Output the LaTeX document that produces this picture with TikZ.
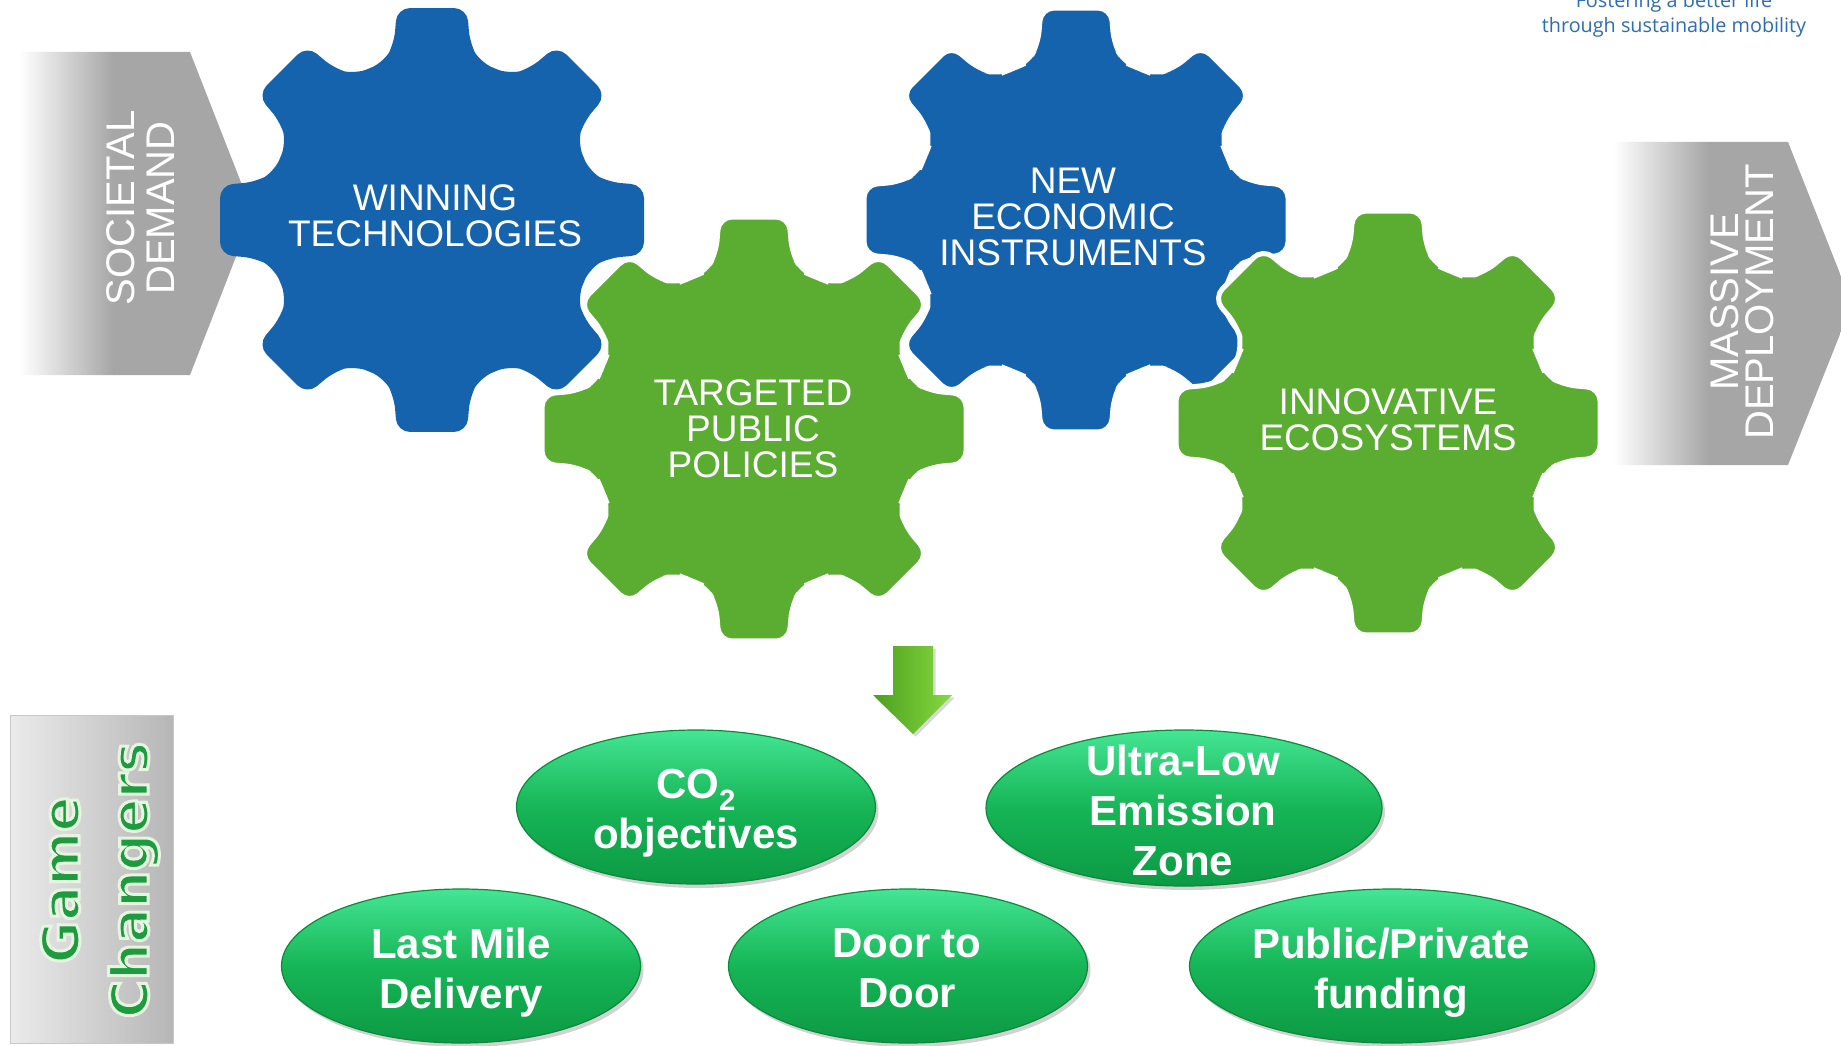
\documentclass[tikz,border=0pt]{standalone}
\usepackage{fontspec}
\setmainfont{Liberation Sans}
\newfontfamily\logofont{Open Sans}
\newfontfamily\gamefont{DejaVu Sans}
\usetikzlibrary{shapes.geometric,shadows,calc}
\definecolor{gblue}{HTML}{1663AD}
\definecolor{ggreen}{HTML}{5BAD32}
\definecolor{agray}{HTML}{A6A6A6}
\definecolor{logoblue}{HTML}{2B6DB7}
\definecolor{elltop}{HTML}{44E594}
\definecolor{ellmid}{HTML}{16B556}
\definecolor{ellbot}{HTML}{0C9A44}
\definecolor{elledge}{HTML}{0B8A3C}
\definecolor{gctext}{HTML}{1E9A3F}
\definecolor{arrowL}{HTML}{4C9F1E}
\definecolor{arrowR}{HTML}{86DA40}
\definecolor{boxL}{HTML}{EBEBEB}
\definecolor{boxR}{HTML}{B6B6B6}
\definecolor{boxE}{HTML}{C8C8C8}
\pgfdeclarehorizontalshading{fadegray}{100bp}{color(0bp)=(white); color(25bp)=(white); color(45bp)=(agray); color(100bp)=(agray)}
\newcommand\olon{\special{pdf:literal direct 2 Tr 3 w 0.90 0.96 0.88 RG}}
\newcommand\oloff{\special{pdf:literal direct 0 Tr}}
\newcommand\drawgear[4]{%
  \coordinate (#1) at (#2,#3);
  \path[#4, shift={(#2,#3)}, rounded corners=13pt]
    (0:212) -- (9.375:214.87) -- (12.18:180.06) -- (17:165) -- (22.5:164) -- (28:165) -- (32.82:180.06)
    \foreach \t in {45,90,...,315}{
      -- (\t-9.375:214.87) -- (\t+9.375:214.87) -- (\t+12.18:180.06) -- (\t+17:165)
      -- (\t+22.5:164) -- (\t+28:165) -- (\t+32.82:180.06)}
    -- (-9.375:214.87) -- cycle;
}
\tikzset{
  geartext/.style={text=white, font=\fontsize{37}{36}\selectfont, align=center, inner sep=0pt},
  sidetext/.style={text=white, rotate=90, align=center, inner sep=0pt},
  gcell/.style={ellipse, inner sep=0pt, top color=elltop, bottom color=ellbot, middle color=ellmid,
    draw=elledge, line width=1.2pt, drop shadow={opacity=0.35, shadow xshift=3pt, shadow yshift=-4pt}},
  gctxt/.style={text=white, font=\bfseries\fontsize{42}{50}\selectfont, align=center, inner sep=0pt},
  logotext/.style={text=logoblue, font=\logofont\fontsize{19.8}{25}\selectfont, anchor=base, inner sep=0pt}
}
\begin{document}
\begin{tikzpicture}[x=1pt,y=-1pt]
\useasboundingbox (0,0) rectangle (1841,1046);
\fill[white] (0,0) rectangle (1841,1046);

% side arrows
\shade[shading=fadegray] (20,52) -- (190,52) -- (253,213) -- (190,375) -- (20,375) -- cycle;
\shade[shading=fadegray] (1613,142) -- (1788,142) -- (1852,304) -- (1788,465) -- (1613,465) -- cycle;

% gears
\drawgear{g1}{432}{220}{fill=gblue}
\drawgear{g2}{754}{429}{fill=ggreen, draw=white, line width=5pt}
\drawgear{g3}{1076}{220}{fill=gblue, draw=white, line width=5pt}
\drawgear{g4}{1388}{423}{fill=ggreen, draw=white, line width=5pt}

\node[geartext] (t1) at (435,216) {WINNING\\TECHNOLOGIES};
\node[geartext] (t2) at (753,429) {TARGETED\\PUBLIC\\POLICIES};
\node[geartext] (t3) at (1073,217) {NEW\\ECONOMIC\\INSTRUMENTS};
\node[geartext] (t4) at (1388,420) {INNOVATIVE\\ECOSYSTEMS};

\node[sidetext, font=\fontsize{40}{40}\selectfont] (sd) at (141,208) {SOCIETAL\\DEMAND};
\node[sidetext, font=\fontsize{40}{35}\selectfont] (md) at (1742,302) {MASSIVE\\DEPLOYMENT};

% logo
\node[logotext] (logo1) at (1674,8) {Fostering a better life};
\node[logotext] (logo2) at (1674,33) {through sustainable mobility};

% down arrow
\path[left color=arrowL, right color=arrowR, drop shadow={opacity=0.3}]
  (893,646) -- (933,646) -- (933,695) -- (952,695) -- (913,734) -- (873,695) -- (893,695) -- cycle;

% Game changers box
\path[left color=boxL, right color=boxR, draw=boxE] (10,715) rectangle (173,1043);
\node[rotate=90, text=gctext, font=\gamefont\bfseries\fontsize{52}{69}\selectfont, align=center, inner sep=0pt]
  (gc) at (100,880) {\olon Game\\\olon Changers\oloff};

% ellipses
\node[gcell, minimum width=359pt, minimum height=154pt] (e1) at (696,807) {};
\node[gcell, minimum width=396pt, minimum height=156pt] (e2) at (1184,808) {};
\node[gcell, minimum width=359pt, minimum height=154pt] (e3) at (461,966) {};
\node[gcell, minimum width=359pt, minimum height=154pt] (e4) at (908,966) {};
\node[gcell, minimum width=405pt, minimum height=154pt] (e5) at (1392,966) {};

\node[gctxt] (e1t) at (696,813) {CO\textsubscript{2}\\objectives};
\node[gctxt] (e2t) at (1183,810) {Ultra-Low\\Emission\\Zone};
\node[gctxt] (e3t) at (461,973) {Last Mile\\Delivery};
\node[gctxt] (e4t) at (907,968) {Door to\\Door};
\node[gctxt] (e5t) at (1391,973) {Public/Private\\funding};
\end{tikzpicture}
\end{document}
